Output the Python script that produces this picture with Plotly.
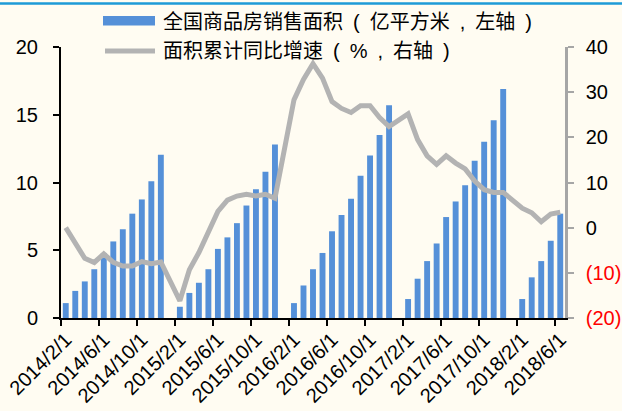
import plotly.graph_objects as go
import pandas as pd

# Monthly categories 2014/2 .. 2018/6 (January has no separate release)
categories = [f"{d.year}/{d.month}/1" for d in pd.date_range("2014-02-01", "2018-06-01", freq="MS")]

# 全国商品房销售面积（亿平方米，累计）
area_2014 = [1.1, 2.0, 2.7, 3.6, 4.8, 5.65, 6.55, 7.7, 8.75, 10.1, 12.05]
area_2015 = [0.83, 1.85, 2.6, 3.6, 5.1, 5.95, 7.0, 8.3, 9.5, 10.8, 12.8]
area_2016 = [1.1, 2.4, 3.6, 4.8, 6.4, 7.6, 8.8, 10.5, 12.0, 13.5, 15.7]
area_2017 = [1.4, 2.9, 4.2, 5.5, 7.45, 8.6, 9.8, 11.6, 13.0, 14.6, 16.9]
area_2018 = [1.4, 3.0, 4.2, 5.7, 7.7]

# 面积累计同比增速（%）
growth_2014 = [0.0, -3.6, -6.8, -7.7, -5.8, -7.7, -8.5, -8.5, -7.5, -8.0, -7.6]
growth_2015 = [-16.2, -9.3, -5.5, -1.0, 3.6, 6.1, 7.0, 7.4, 7.0, 7.4, 6.5]
growth_2016 = [28.3, 32.8, 36.3, 33.1, 27.9, 26.4, 25.5, 27.0, 27.0, 24.4, 22.4]
growth_2017 = [25.2, 19.5, 15.9, 14.0, 15.9, 14.3, 13.0, 10.3, 8.4, 7.8, 7.8]
growth_2018 = [4.3, 3.3, 1.3, 3.0, 3.4]

area = area_2014 + [None] + area_2015 + [None] + area_2016 + [None] + area_2017 + [None] + area_2018
growth = growth_2014 + [None] + growth_2015 + [None] + growth_2016 + [None] + growth_2017 + [None] + growth_2018

left_ticks = [0, 5, 10, 15, 20]
right_ticks = [-20, -10, 0, 10, 20, 30, 40]
right_labels = ["(20)", "(10)", "0", "10", "20", "30", "40"]

bar_name = "全国商品房销售面积\u2002(\u2002亿平方米\u2002,\u2002左轴\u2002)"
line_name = "面积累计同比增速\u2002(\u2002%\u2002,\u2002右轴\u2002)"

BLUE = "#5590D8"
GRAY = "#B3B3B3"
BG = "#FFFCF2"
FONT = "Liberation Sans, Arial, Noto Sans CJK SC"

x = list(range(len(categories)))

fig = go.Figure()
fig.add_trace(go.Bar(x=x, y=area, name=bar_name, marker=dict(color=BLUE, line=dict(width=0)),
                     yaxis="y", showlegend=False))
fig.add_trace(go.Scatter(x=x, y=growth, name=line_name, mode="lines", connectgaps=True,
                         line=dict(color=GRAY, width=5), yaxis="y2", showlegend=False))

W, H = 622, 411
L, R, T, B = 61, 57, 47, 93
pw, ph = W - L - R, H - T - B

def px(xp):
    return (xp - L) / pw

def py(yp):
    return (H - B - yp) / ph

label_idx = list(range(0, len(categories), 4))
right_text = [f"<span style='color:#FF0000'>{t}</span>" if v < 0 else t for v, t in zip(right_ticks, right_labels)]

fig.update_layout(
    width=W, height=H,
    margin=dict(l=L, r=R, t=T, b=B, pad=0, autoexpand=False),
    paper_bgcolor=BG, plot_bgcolor=BG,
    font=dict(family=FONT, size=20, color="#000000"),
    bargap=0.38,
    xaxis=dict(
        range=[-0.5, len(categories) - 0.5], automargin=False,
        tickmode="array", tickvals=label_idx, ticktext=[categories[i] for i in label_idx],
        tickangle=-45, ticks="", showgrid=False, zeroline=False,
        showline=True, linecolor="#000000", linewidth=2,
        minor=dict(tickmode="array", tickvals=[i - 0.5 for i in label_idx],
                   ticks="outside", ticklen=6, tickwidth=2, tickcolor="#000000", showgrid=False),
        tickfont=dict(size=20, family=FONT),
    ),
    yaxis=dict(
        range=[0, 20], tickmode="array", tickvals=left_ticks, automargin=False,
        showgrid=False, zeroline=False,
        showline=True, linecolor="#000000", linewidth=2,
        ticks="outside", ticklen=6, tickwidth=2, tickcolor="#000000",
        ticklabelstandoff=11,
        tickfont=dict(size=20, family=FONT),
    ),
    yaxis2=dict(
        range=[-20, 40], tickmode="array", tickvals=right_ticks, ticktext=right_text,
        overlaying="y", side="right", anchor="x", automargin=False,
        showgrid=False, zeroline=False,
        showline=True, linecolor="#A6A6A6", linewidth=2.5,
        ticks="outside", ticklen=6, tickwidth=2, tickcolor="#A6A6A6",
        ticklabelstandoff=8,
        tickfont=dict(size=20, family=FONT),
    ),
    shapes=[
        dict(type="line", xref="paper", yref="paper", x0=px(0), x1=px(W), y0=py(3.5), y1=py(3.5),
             line=dict(color="#1E9BD7", width=2.5)),
        dict(type="rect", xref="paper", yref="paper", x0=px(103), x1=px(155), y0=py(25.5), y1=py(16),
             fillcolor=BLUE, line=dict(width=0)),
        dict(type="line", xref="paper", yref="paper", x0=px(105), x1=px(155), y0=py(51), y1=py(51),
             line=dict(color=GRAY, width=5)),
    ],
    annotations=[
        dict(text=bar_name, xref="paper", yref="paper", x=px(161), y=py(21.5),
             xanchor="left", yanchor="middle", showarrow=False,
             font=dict(size=20, family=FONT, color="#000000")),
        dict(text=line_name, xref="paper", yref="paper", x=px(161), y=py(51),
             xanchor="left", yanchor="middle", showarrow=False,
             font=dict(size=20, family=FONT, color="#000000")),
    ],
)

fig.write_html("out.html", config={"displayModeBar": False},
               post_script="document.body.style.margin='0';document.body.style.overflow='hidden';")
